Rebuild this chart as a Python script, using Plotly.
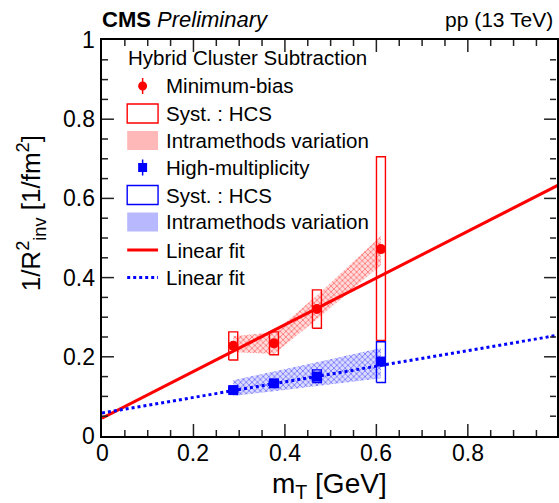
import plotly.graph_objects as go

# ---------------- data ----------------
mt = [0.287, 0.376, 0.470, 0.610]

mb_y = [0.228, 0.234, 0.321, 0.472]
mb_stat = [0.005, 0.005, 0.006, 0.010]
mb_syst_lo = [0.192, 0.205, 0.272, 0.241]
mb_syst_hi = [0.263, 0.263, 0.369, 0.705]
mb_band_lo = [0.212, 0.207, 0.295, 0.432]
mb_band_hi = [0.252, 0.262, 0.355, 0.505]

hm_y = [0.116, 0.133, 0.150, 0.188]
hm_stat = [0.003, 0.003, 0.004, 0.006]
hm_syst_lo = [0.109, 0.126, 0.135, 0.135]
hm_syst_hi = [0.124, 0.141, 0.167, 0.238]
hm_band_lo = [0.101, 0.113, 0.126, 0.146]
hm_band_hi = [0.141, 0.163, 0.186, 0.222]

fit_x = [0.0, 1.0]
mb_fit_y = [0.045, 0.635]
hm_fit_y = [0.058, 0.255]

x_ticks = [0, 0.2, 0.4, 0.6, 0.8]
x_tick_labels = ["0", "0.2", "0.4", "0.6", "0.8"]
y_ticks = [0, 0.2, 0.4, 0.6, 0.8, 1]
y_tick_labels = ["0", "0.2", "0.4", "0.6", "0.8", "1"]
minor_step = 0.05

legend_header = "Hybrid Cluster Subtraction"
legend_labels = ["Minimum-bias", "Syst. : HCS", "Intramethods variation",
                 "High-multiplicity", "Syst. : HCS", "Intramethods variation",
                 "Linear fit", "Linear fit"]

# ---------------- style ----------------
RED = "#ff0000"
BLUE = "#0000ff"
FONT = "Liberation Sans, Arial, Helvetica, sans-serif"
BOX_HW = 0.0098
W, H = 559, 503
L, R, T, B = 102, 559, 40, 436
X_PER_UNIT = 459.3
X_MAX = (R - L) / X_PER_UNIT
MAJ_LEN, MIN_LEN = 12, 6


def box_path(xs, lo, hi):
    px_, py_ = [], []
    for x, a, b in zip(xs, lo, hi):
        px_ += [x - BOX_HW, x + BOX_HW, x + BOX_HW, x - BOX_HW, x - BOX_HW, None]
        py_ += [a, a, b, b, a, None]
    return px_, py_


def band_poly(xs, lo, hi):
    return list(xs) + list(xs[::-1]), list(hi) + list(lo[::-1])


fig = go.Figure()

# bands
for lo, hi, rgb in [(mb_band_lo, mb_band_hi, "255,0,0"),
                    (hm_band_lo, hm_band_hi, "0,0,255")]:
    bx, by = band_poly(mt, lo, hi)
    fig.add_trace(go.Scatter(
        x=bx, y=by, mode="none", fill="toself",
        fillcolor=f"rgba({rgb},0.14)",
        fillpattern=dict(shape="x", fgcolor=f"rgba({rgb},1)", fgopacity=0.45,
                         size=4, solidity=0.4),
        hoverinfo="skip", showlegend=False))

# syst boxes
for lo, hi, col in [(mb_syst_lo, mb_syst_hi, RED), (hm_syst_lo, hm_syst_hi, BLUE)]:
    sx, sy = box_path(mt, lo, hi)
    fig.add_trace(go.Scatter(x=sx, y=sy, mode="lines",
                             line=dict(color=col, width=1.4),
                             hoverinfo="skip", showlegend=False))

# fits
fig.add_trace(go.Scatter(x=fit_x, y=mb_fit_y, mode="lines",
                         line=dict(color=RED, width=3), showlegend=False))
fig.add_trace(go.Scatter(x=fit_x, y=hm_fit_y, mode="lines",
                         line=dict(color=BLUE, width=3, dash="dot"), showlegend=False))

# points
fig.add_trace(go.Scatter(x=mt, y=mb_y, mode="markers",
                         marker=dict(symbol="circle", size=10, color=RED),
                         error_y=dict(type="data", array=mb_stat, color=RED,
                                      thickness=1.5, width=0),
                         showlegend=False))
fig.add_trace(go.Scatter(x=mt, y=hm_y, mode="markers",
                         marker=dict(symbol="square", size=10, color=BLUE),
                         error_y=dict(type="data", array=hm_stat, color=BLUE,
                                      thickness=1.5, width=0),
                         showlegend=False))


# ---------------- manual ROOT-style legend (pixel -> paper) ----------------
def pxp(x):
    return (x - L) / (R - L)


def pyp(y):
    return (B - y) / (B - T)


shapes = []
annotations = []
row_y = [86, 113.5, 140.5, 167.5, 195, 222, 250, 277.5]
sw_x0, sw_x1 = 127.3, 158.3
sw_xc = (sw_x0 + sw_x1) / 2
sw_h = 19


def rect(x0, y0, x1, y1, line_col=None, fill=None, lw=1.4):
    shapes.append(dict(type="rect", xref="paper", yref="paper",
                       x0=pxp(x0), x1=pxp(x1), y0=pyp(y1), y1=pyp(y0),
                       line=dict(color=line_col or "rgba(0,0,0,0)", width=lw if line_col else 0),
                       fillcolor=fill or "rgba(0,0,0,0)", layer="above"))


def seg(x0, y0, x1, y1, col, lw, dash="solid"):
    shapes.append(dict(type="line", xref="paper", yref="paper",
                       x0=pxp(x0), x1=pxp(x1), y0=pyp(y0), y1=pyp(y1),
                       line=dict(color=col, width=lw, dash=dash), layer="above"))


# row 0: MB marker
seg(sw_xc, row_y[0] - 8, sw_xc, row_y[0] + 8, RED, 1.5)
shapes.append(dict(type="circle", xref="paper", yref="paper",
                   x0=pxp(sw_xc - 4.5), x1=pxp(sw_xc + 4.5),
                   y0=pyp(row_y[0] + 4.5), y1=pyp(row_y[0] - 4.5),
                   fillcolor=RED, line=dict(color=RED, width=0), layer="above"))
rect(sw_x0, row_y[1] - sw_h / 2, sw_x1, row_y[1] + sw_h / 2, line_col=RED)
rect(sw_x0, row_y[2] - sw_h / 2, sw_x1, row_y[2] + sw_h / 2, fill="rgba(255,0,0,0.28)")
seg(sw_xc, row_y[3] - 8, sw_xc, row_y[3] + 8, BLUE, 1.5)
rect(sw_xc - 4.5, row_y[3] - 4.5, sw_xc + 4.5, row_y[3] + 4.5, fill=BLUE)
rect(sw_x0, row_y[4] - sw_h / 2, sw_x1, row_y[4] + sw_h / 2, line_col=BLUE)
rect(sw_x0, row_y[5] - sw_h / 2, sw_x1, row_y[5] + sw_h / 2, fill="rgba(0,0,255,0.28)")
seg(sw_x0, row_y[6], sw_x1, row_y[6], RED, 3)
seg(sw_x0, row_y[7], sw_x1, row_y[7], BLUE, 3, "dot")

# ---------------- axis ticks (inside, on all four sides) ----------------
n_minor = int(round(1 / minor_step))
minor_vals = [round(i * minor_step, 3) for i in range(n_minor + 1)]
TICK_COL = "#222222"
for v in minor_vals:
    if 0 < v <= X_MAX:
        ln = MAJ_LEN if any(abs(v - t) < 1e-9 for t in x_ticks) else MIN_LEN
        for y0, y1 in [(pyp(B), pyp(B - ln)), (pyp(T), pyp(T + ln))]:
            shapes.append(dict(type="line", xref="x", yref="paper", x0=v, x1=v,
                               y0=y0, y1=y1, line=dict(color=TICK_COL, width=1.5),
                               layer="above"))
    if 0 < v < 1:
        ln = MAJ_LEN if any(abs(v - t) < 1e-9 for t in y_ticks) else MIN_LEN
        for x0, x1 in [(pxp(L), pxp(L + ln)), (pxp(R - 1), pxp(R - 1 - ln))]:
            shapes.append(dict(type="line", xref="paper", yref="y", x0=x0, x1=x1,
                               y0=v, y1=v, line=dict(color=TICK_COL, width=1.5),
                               layer="above"))

annotations.append(dict(text=legend_header, xref="paper", yref="paper",
                        x=pxp(126), y=pyp(57.5), xanchor="left", yanchor="middle",
                        showarrow=False, font=dict(family=FONT, size=20.5, color="black")))
for lab, yy in zip(legend_labels, row_y):
    annotations.append(dict(text=lab, xref="paper", yref="paper",
                            x=pxp(164), y=pyp(yy), xanchor="left", yanchor="middle",
                            showarrow=False, font=dict(family=FONT, size=20.5, color="black")))

annotations.append(dict(text="<b>CMS</b> <i>Preliminary</i>", xref="paper", yref="paper",
                        x=pxp(100), y=pyp(19), xanchor="left", yanchor="middle",
                        showarrow=False, font=dict(family=FONT, size=22, color="black")))
annotations.append(dict(text="pp (13 TeV)", xref="paper", yref="paper",
                        x=pxp(557), y=pyp(19), xanchor="right", yanchor="middle",
                        showarrow=False, font=dict(family=FONT, size=21, color="black")))
annotations.append(dict(text="m<sub>T</sub> [GeV]", xref="paper", yref="paper",
                        x=pxp(330), y=pyp(485), xanchor="center", yanchor="middle",
                        showarrow=False, font=dict(family=FONT, size=28, color="black")))
annotations.append(dict(text="1/R<sup>2</sup><sub>inv</sub> [1/fm<sup>2</sup>]",
                        xref="paper", yref="paper", textangle=-90,
                        x=pxp(31), y=pyp(213), xanchor="center", yanchor="middle",
                        showarrow=False, font=dict(family=FONT, size=26, color="black")))

for v, t in zip(x_ticks, x_tick_labels):
    annotations.append(dict(text=t, xref="x", yref="paper", x=v, y=pyp(453.5),
                            xanchor="center", yanchor="middle", showarrow=False,
                            font=dict(family=FONT, size=23, color="black")))
for v, t in zip(y_ticks, y_tick_labels):
    annotations.append(dict(text=t, xref="paper", yref="y", x=pxp(97), y=v,
                            xanchor="right", yanchor="middle", showarrow=False,
                            font=dict(family=FONT, size=23, color="black")))

axis_common = dict(
    showgrid=False, zeroline=False, showline=True, linecolor="black", linewidth=1.5,
    ticks="", mirror=True, showticklabels=False,
)

fig.update_layout(
    width=W, height=H,
    margin=dict(l=L, r=W - R, t=T, b=H - B, pad=0),
    paper_bgcolor="white", plot_bgcolor="white",
    font=dict(family=FONT, size=10, color="black"),
    xaxis=dict(range=[0, X_MAX], **axis_common),
    yaxis=dict(range=[y_ticks[0], y_ticks[-1]], **axis_common),
    shapes=shapes, annotations=annotations, showlegend=False,
)

fig.write_html("out.html")
